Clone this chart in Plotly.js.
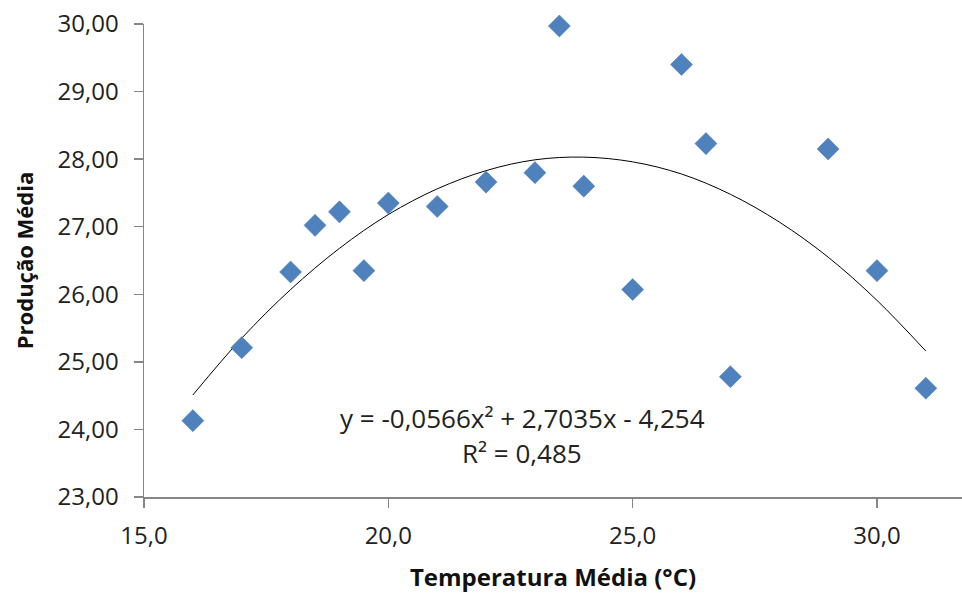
<!DOCTYPE html>
<html>
<head>
<meta charset="utf-8">
<script src="https://cdn.plot.ly/plotly-3.0.1.min.js"></script>
<style>html,body{margin:0;padding:0;background:#fff;}#chart{width:962px;height:593px;}</style>
</head>
<body>
<div id="chart"></div>
<script>
const temperatura = [16, 17, 18, 18.5, 19, 19.5, 20, 21, 22, 23, 23.5, 24, 25, 26, 26.5, 27, 29, 30, 31];
const producao = [24.13, 25.21, 26.33, 27.02, 27.22, 26.35, 27.35, 27.30, 27.66, 27.80, 29.97, 27.60, 26.07, 29.40, 28.23, 24.78, 28.15, 26.35, 24.61];

// Polynomial (order 2) trendline as drawn in the reference
const trendX = [16, 17, 18, 19, 20, 21, 22, 23, 24, 25, 26, 27, 28, 29, 30, 31];
const trendY = [24.51, 25.35, 26.07, 26.68, 27.18, 27.56, 27.83, 27.99, 28.03, 27.96, 27.78, 27.48, 27.07, 26.55, 25.91, 25.16];

const xTicks = [15, 20, 25, 30];
const yTicks = [23, 24, 25, 26, 27, 28, 29, 30];

const eqLine1 = 'y = -0,0566x² + 2,7035x - 4,254';
const eqLine2 = 'R² = 0,485';

const font = "'Open Sans', 'Noto Sans', sans-serif";

const traces = [
  {
    x: trendX, y: trendY, type: 'scatter', mode: 'lines',
    line: {color: '#000000', width: 1, shape: 'spline'},
    hoverinfo: 'skip', showlegend: false
  },
  {
    x: temperatura, y: producao, type: 'scatter', mode: 'markers',
    cliponaxis: false,
    marker: {symbol: 'diamond', size: 17, color: '#4f81bd', line: {color: '#4a7ebb', width: 0.5}},
    showlegend: false
  }
];

const layout = {
  width: 962, height: 593,
  margin: {l: 144, r: 0, t: 24, b: 96},
  paper_bgcolor: '#ffffff', plot_bgcolor: '#ffffff',
  separators: ',.',
  font: {family: font, color: '#222222', size: 24},
  xaxis: {
    range: [15, 31.74],
    tickvals: xTicks, tickformat: '.1f',
    showgrid: false, zeroline: false,
    showline: true, linecolor: '#868686', linewidth: 1.5,
    ticks: 'outside', ticklen: 9, tickcolor: '#868686', tickwidth: 1.5,
    ticklabelstandoff: 8,
    tickfont: {family: font, size: 24, color: '#222222'},
    title: {text: '<b>Temperatura Média (°C)</b>', font: {family: font, size: 24, color: '#111111'}, standoff: 20}
  },
  yaxis: {
    range: [23, 30],
    tickvals: yTicks, tickformat: '.2f',
    showgrid: false, zeroline: false,
    showline: true, linecolor: '#868686', linewidth: 1.5,
    ticks: 'outside', ticklen: 9, tickcolor: '#868686', tickwidth: 1.5,
    ticklabelstandoff: 10,
    tickfont: {family: font, size: 24, color: '#222222'},
    title: {text: '<b>Produção Média</b>', font: {family: font, size: 22, color: '#111111'}, standoff: 18}
  },
  annotations: [
    {xref: 'paper', yref: 'paper', x: (522 - 144) / 818, y: (497 - 418) / 473, text: eqLine1,
     showarrow: false, xanchor: 'center', yanchor: 'middle', font: {family: font, size: 26, color: '#222222'}},
    {xref: 'paper', yref: 'paper', x: (522 - 144) / 818, y: (497 - 453) / 473, text: eqLine2,
     showarrow: false, xanchor: 'center', yanchor: 'middle', font: {family: font, size: 26, color: '#222222'}}
  ]
};

Plotly.newPlot('chart', traces, layout, {displayModeBar: false, staticPlot: true});
</script>
</body>
</html>
